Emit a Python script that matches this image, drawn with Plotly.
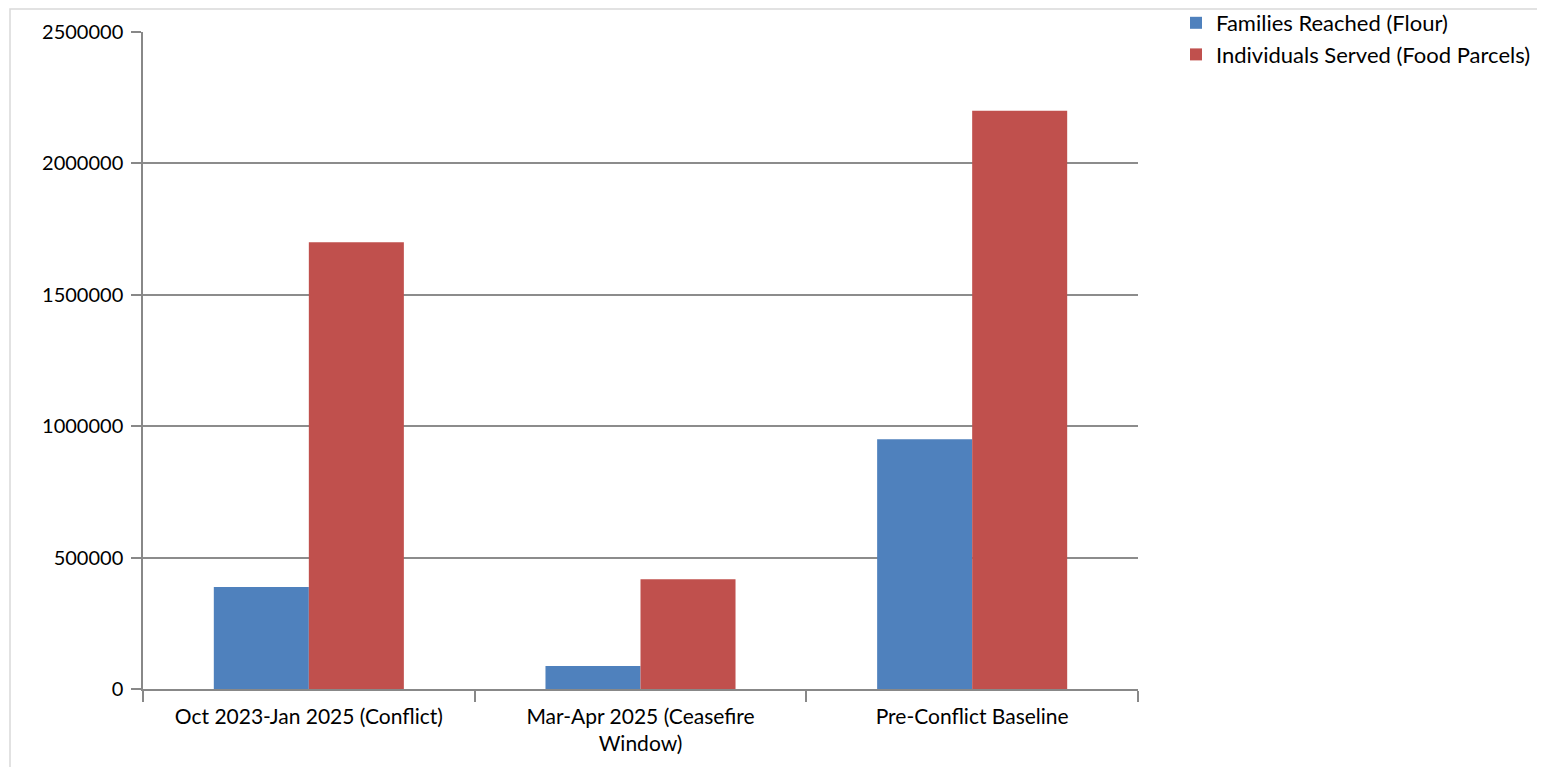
import plotly.graph_objects as go

categories = ["Oct 2023-Jan 2025 (Conflict)", "Mar-Apr 2025 (Ceasefire<br>Window)", "Pre-Conflict Baseline"]
families_reached = [388000, 87500, 950000]
individuals_served = [1700000, 418000, 2200000]
series_names = ["Families Reached (Flour)", "Individuals Served (Food Parcels)"]
y_ticks = [0, 500000, 1000000, 1500000, 2000000, 2500000]

FONT = "Lato, Carlito, 'Liberation Sans', sans-serif"

fig = go.Figure()
fig.add_trace(go.Bar(x=categories, y=families_reached, name=series_names[0],
                     marker=dict(color="#4F81BD", line=dict(width=0)), legendgroup="a"))
fig.add_trace(go.Bar(x=categories, y=individuals_served, name=series_names[1],
                     marker=dict(color="#C0504D", line=dict(width=0)), legendgroup="b"))

# target page coordinates of the plot area (page has 8px body margin)
OFF = 8
L, R, T, B = 143 - OFF, 1138 - OFF, 32 - OFF, 689 - OFF
W, H = 1545, 767

def px_x(p):
    return (p - OFF - L) / (R - L)

def px_y(p):
    return (B - (p - OFF)) / (B - T)

fig.update_layout(
    width=W, height=H,
    margin=dict(l=L, r=W - R, t=T, b=H - B, pad=0, autoexpand=False),
    paper_bgcolor="white", plot_bgcolor="white",
    barmode="group", bargap=0.427, bargroupgap=0,
    font=dict(family=FONT, size=20, color="#000000"),
    showlegend=True,
    legend=dict(x=px_x(1176), y=px_y(2), xanchor="left", yanchor="top",
                font=dict(family=FONT, size=22, color="#000000"),
                traceorder="grouped", tracegroupgap=0, bgcolor="rgba(0,0,0,0)",
                itemwidth=30),
    xaxis=dict(showline=True, linecolor="#888888", linewidth=1.5,
               ticks="outside", tickson="boundaries", ticklen=11, tickcolor="#888888", tickwidth=1.5,
               showgrid=False, tickfont=dict(family=FONT, size=21), ticklabelstandoff=8,
               automargin=False, fixedrange=True),
    yaxis=dict(range=[0, 2500000], tickvals=y_ticks, ticktext=[str(v) for v in y_ticks],
               showline=True, linecolor="#888888", linewidth=1.5,
               ticks="outside", ticklen=10, tickcolor="#888888", tickwidth=1.5,
               showgrid=True, gridcolor="#8c8c8c", gridwidth=1.5, zeroline=False,
               tickfont=dict(family=FONT, size=20), ticklabelstandoff=4,
               automargin=False, fixedrange=True),
    shapes=[dict(type="rect", xref="paper", yref="paper",
                 x0=px_x(10), x1=px_x(1542),
                 y0=px_y(800), y1=px_y(9),
                 line=dict(color="#d9d9d9", width=1.5), fillcolor="rgba(0,0,0,0)", layer="below")],
)

fig.write_html("out.html")
